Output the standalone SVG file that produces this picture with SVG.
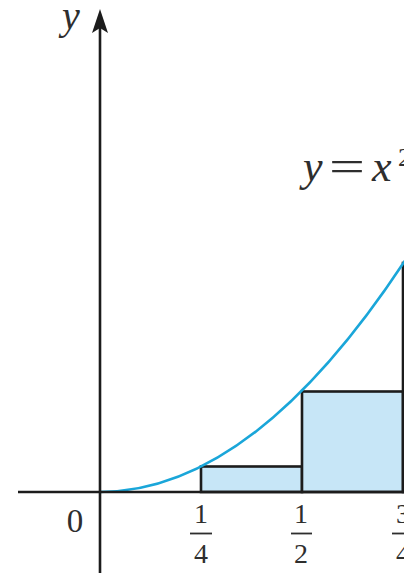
<svg xmlns="http://www.w3.org/2000/svg" width="404" height="573" viewBox="0 0 404 573">
<style>
.ax{stroke:#1c1c1c;stroke-width:2.6;fill:none}
.bar{fill:#c7e6f7;stroke:#1c1c1c;stroke-width:2.6}
.curve{fill:none;stroke:#1aa6d9;stroke-width:2.6}
.t{font-family:"Liberation Serif","Times New Roman",serif;fill:#2e2e2e}
.it{font-style:italic}
.fb{stroke:#2e2e2e;stroke-width:1.8}
</style>
<rect width="404" height="573" fill="#ffffff"/>
<g id="rects">
<rect class="bar" x="201" y="466.5" width="101" height="25.5"/>
<rect class="bar" x="302" y="391.5" width="101" height="100.5"/>
<rect class="bar" x="403" y="263" width="30" height="229"/>
</g>
<g id="curve">
<path class="curve" d="M100,492 Q260,492 420,237.3"/>
</g>
<g id="axes">
<line class="ax" x1="18" y1="492" x2="404" y2="492"/>
<line class="ax" x1="100" y1="573" x2="100" y2="26"/>
<path d="M100,9 L108,33 L100,28 L92,33 Z" fill="#1c1c1c"/>
</g>
<g id="labels">
<text class="t it" x="62" y="29" font-size="40">y</text>
<text class="t it" x="303" y="181" font-size="44">y</text>
<text class="t" x="0" y="181" font-size="44" transform="translate(329,0) scale(1.45,1)">=</text>
<text class="t it" x="372" y="181" font-size="44">x</text>
<text class="t" x="398" y="166" font-size="26">2</text>
<text class="t" x="75" y="532" font-size="33" text-anchor="middle">0</text>
<text class="t" x="201" y="523" font-size="28" text-anchor="middle">1</text>
<line class="fb" x1="190" y1="533.5" x2="212" y2="533.5"/>
<text class="t" x="201" y="563" font-size="28" text-anchor="middle">4</text>
<text class="t" x="301" y="523" font-size="28" text-anchor="middle">1</text>
<line class="fb" x1="291" y1="533.5" x2="312" y2="533.5"/>
<text class="t" x="301" y="563" font-size="28" text-anchor="middle">2</text>
<text class="t" x="403" y="523" font-size="28" text-anchor="middle">3</text>
<line class="fb" x1="392" y1="533.5" x2="414" y2="533.5"/>
<text class="t" x="403" y="563" font-size="28" text-anchor="middle">4</text>
</g>
</svg>
